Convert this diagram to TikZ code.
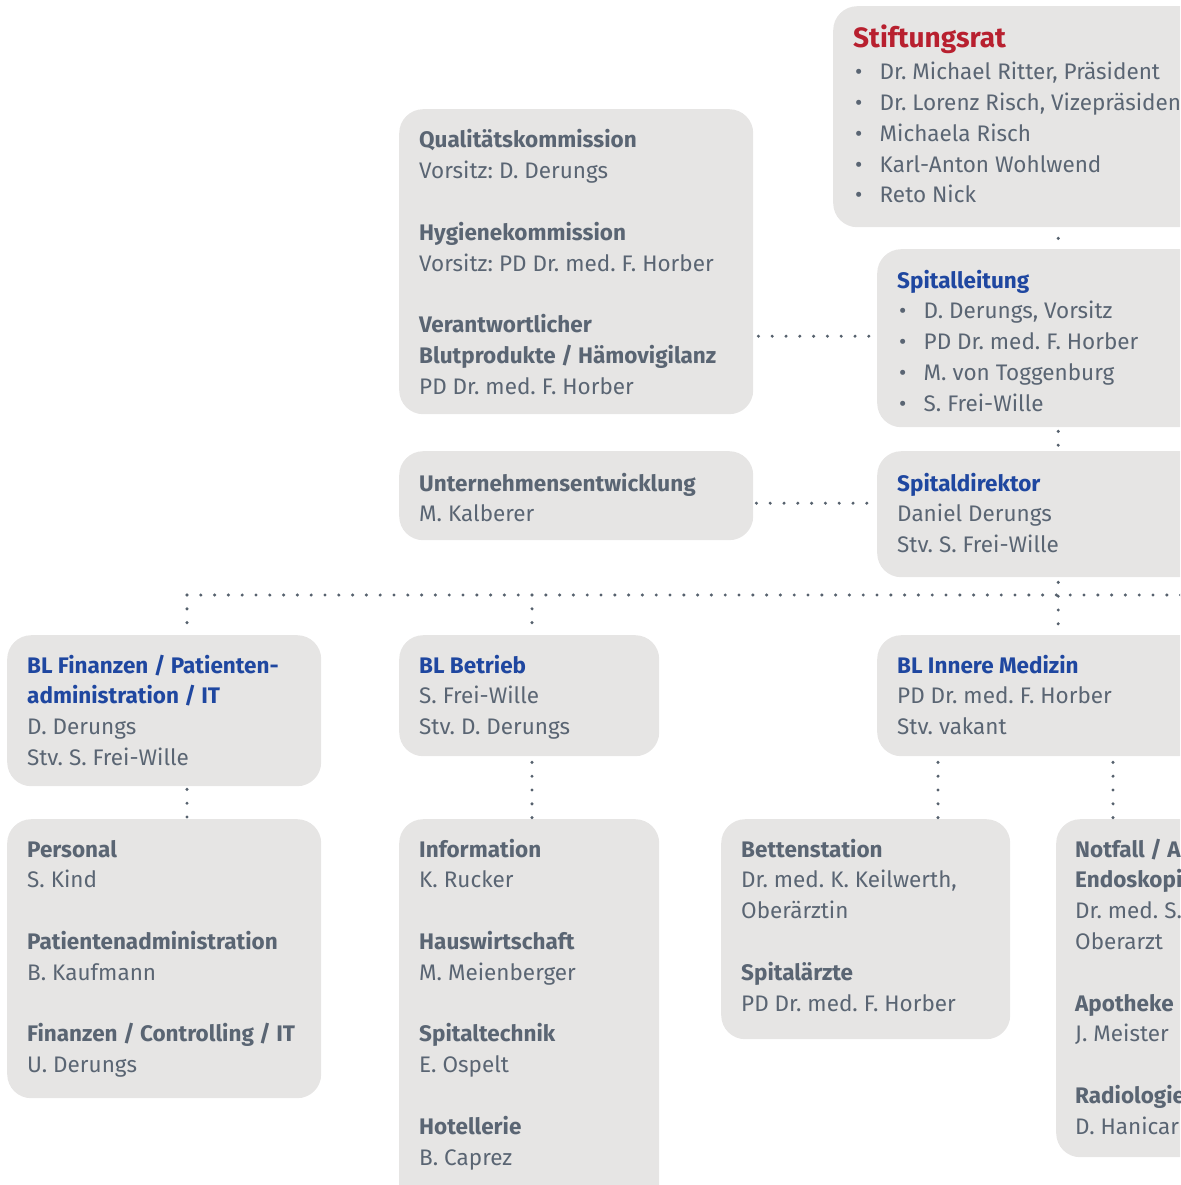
\documentclass[tikz,border=0pt]{standalone}
\usepackage{fontspec}
\setmainfont{Fira Sans}
\definecolor{boxgray}{HTML}{E6E5E4}
\definecolor{txtgray}{HTML}{5A6573}
\definecolor{hdblue}{HTML}{1F47A0}
\definecolor{hdred}{HTML}{B8202F}
\definecolor{dotgray}{HTML}{56616D}
\newcommand\hd[1]{\textbf{#1}}
\newcommand\hb[1]{\textcolor{hdblue}{\textbf{#1}}}
\newcommand\bu[1]{\makebox[26.5pt][l]{\hspace{2pt}\textbullet}#1}
\newcommand\lines[1]{\begin{tabular}[t]{@{}l@{}}#1\end{tabular}}
\frenchspacing
\begin{document}
\begin{tikzpicture}[x=1pt,y=-1pt,
  box/.style={fill=boxgray, draw=none, rounded corners=24pt, inner sep=0pt, anchor=north west},
  txt/.style={anchor=base west, inner sep=0pt, text=txtgray, font=\fontsize{22.5}{30.8}\selectfont\frenchspacing},
  dots/.style={draw=dotgray, line width=3.4pt, line cap=round, dash pattern=on 0pt off 13.8pt}]
\path[use as bounding box] (0,0) rectangle (1180,1185);
\clip (0,0) rectangle (1180,1185);

% boxes
\node[box, minimum width=450pt, minimum height=221pt] (stift) at (833,6) {};
\node[box, minimum width=354pt, minimum height=305pt] (quali) at (399,109) {};
\node[box, minimum width=362pt, minimum height=178pt] (leit) at (877,249) {};
\node[box, minimum width=354pt, minimum height=89pt] (unt) at (399,451) {};
\node[box, minimum width=362pt, minimum height=126pt] (dir) at (877,451) {};
\node[box, minimum width=314pt, minimum height=151pt] (fin) at (7,635) {};
\node[box, minimum width=260pt, minimum height=121pt] (betr) at (399,635) {};
\node[box, minimum width=362pt, minimum height=121pt] (inn) at (877,635) {};
\node[box, minimum width=314pt, minimum height=279pt] (pers) at (7,819) {};
\node[box, minimum width=260pt, minimum height=390pt] (info) at (399,819) {};
\node[box, minimum width=289pt, minimum height=220pt] (bett) at (721,819) {};
\node[box, minimum width=260pt, minimum height=338pt] (notf) at (1056,819) {};

% texts
\node[txt] (tstift) at (853,48) {\lines{{\fontsize{28}{31}\selectfont\textcolor{hdred}{\textbf{Stiftungsrat}}}\\[1pt]
  \bu{Dr. Michael Ritter, Präsident}\\
  \bu{Dr. Lorenz Risch, Vizepräsident}\\
  \bu{Michaela Risch}\\
  \bu{Karl-Anton Wohlwend}\\
  \bu{Reto Nick}}};
\node[txt] (tquali) at (419,148) {\lines{\hd{Qualitätskommission}\\
  Vorsitz: D. Derungs\\ \\
  \hd{Hygienekommission}\\
  Vorsitz: PD Dr. med. F. Horber\\ \\
  \hd{Verantwortlicher}\\
  \hd{Blutprodukte / Hämovigilanz}\\
  PD Dr. med. F. Horber}};
\node[txt] (tleit) at (897,288) {\lines{\hb{Spitalleitung}\\
  \bu{D. Derungs, Vorsitz}\\
  \bu{PD Dr. med. F. Horber}\\
  \bu{M. von Toggenburg}\\
  \bu{S. Frei-Wille}}};
\node[txt] (tunt) at (419,491) {\lines{\hd{Unternehmensentwicklung}\\ M. Kalberer}};
\node[txt] (tdir) at (897,491) {\lines{\hb{Spitaldirektor}\\ Daniel Derungs\\ Stv. S. Frei-Wille}};
\node[txt] (tfin) at (27,673) {\lines{\hb{BL Finanzen / Patienten-}\\ \hb{administration / IT}\\ D. Derungs\\ Stv. S. Frei-Wille}};
\node[txt] (tbetr) at (419,673) {\lines{\hb{BL Betrieb}\\ S. Frei-Wille\\ Stv. D. Derungs}};
\node[txt] (tinn) at (897,673) {\lines{\hb{BL Innere Medizin}\\ PD Dr. med. F. Horber\\ Stv. vakant}};
\node[txt] (tpers) at (27,857) {\lines{\hd{Personal}\\ S. Kind\\ \\
  \hd{Patientenadministration}\\ B. Kaufmann\\ \\
  \hd{Finanzen / Controlling / IT}\\ U. Derungs}};
\node[txt] (tinfo) at (419,857) {\lines{\hd{Information}\\ K. Rucker\\ \\
  \hd{Hauswirtschaft}\\ M. Meienberger\\ \\
  \hd{Spitaltechnik}\\ E. Ospelt\\ \\
  \hd{Hotellerie}\\ B. Caprez}};
\node[txt] (tbett) at (741,857) {\lines{\hd{Bettenstation}\\ Dr. med. K. Keilwerth,\\ Oberärztin\\ \\
  \hd{Spitalärzte}\\ PD Dr. med. F. Horber}};
\node[txt] (tnotf) at (1075,857) {\lines{\hd{Notfall / A}\\ \hd{Endoskopie}\\ Dr. med. S.\\ Oberarzt\\ \\
  \hd{Apotheke}\\ J. Meister\\ \\
  \hd{Radiologie}\\ D. Hanicar}};

% connectors
\coordinate (busL) at (187,595);
\coordinate (busR) at (1190,595);
\coordinate (busB) at (532,595);
\draw[dots, shorten <=11pt] (stift.south) -- (leit.north);
\draw[dots, shorten <=4pt] (leit.south) -- (dir.north);
\draw[dots, shorten <=5pt] (dir.south) -- (inn.north);
\draw[dots, shorten <=5pt] ([yshift=2pt]leit.west -| quali.east) -- ([yshift=2pt]leit.west);
\draw[dots, shorten <=3pt] ([yshift=11pt]dir.west -| unt.east) -- ([yshift=11pt]dir.west);
\draw[dots] (busL) -- (busR);
\draw[dots] (busL) -- (busL |- fin.north);
\draw[dots] (busB) -- (busB |- betr.north);
\draw[dots, shorten <=3pt] ([xshift=180pt]fin.south west) -- ([xshift=180pt]pers.north west);
\draw[dots, shorten <=6pt] ([xshift=133pt]betr.south west) -- ([xshift=133pt]info.north west);
\draw[dots, shorten <=6pt] ([xshift=61pt]inn.south west) -- ([xshift=217pt]bett.north west);
\draw[dots, shorten <=6pt] ([xshift=236pt]inn.south west) -- ([xshift=57pt]notf.north west);
\end{tikzpicture}
\end{document}
